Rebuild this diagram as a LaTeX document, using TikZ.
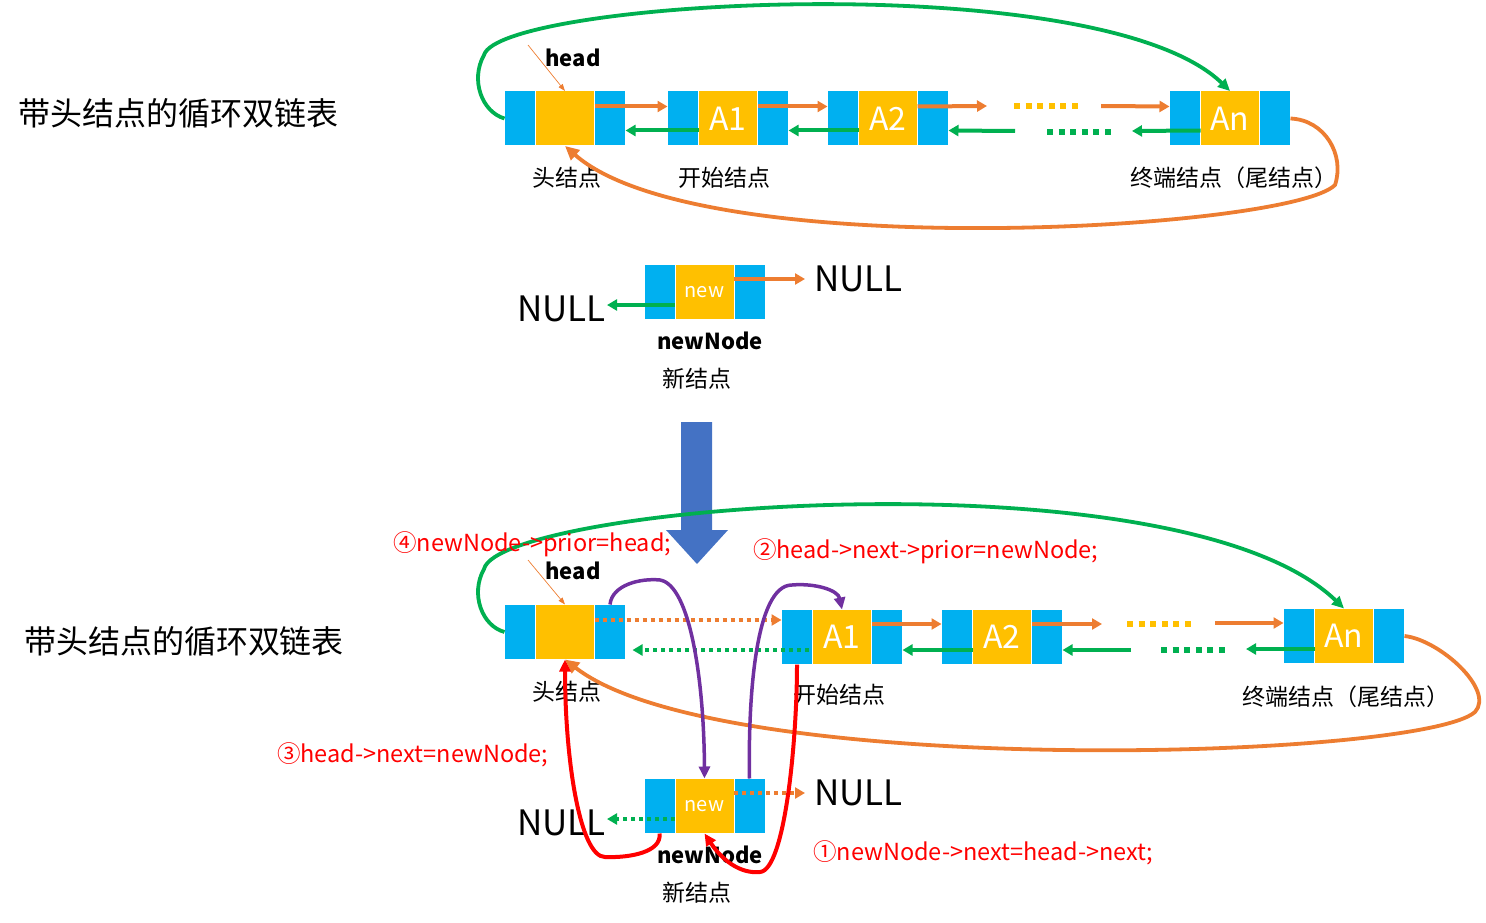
\documentclass[tikz,border=0pt]{standalone}
\usepackage{fontspec}
\setmainfont{Noto Sans CJK SC}
\usetikzlibrary{arrows.meta, positioning}
\definecolor{cblue}{HTML}{00B0F0}
\definecolor{cyellow}{HTML}{FFC000}
\definecolor{corange}{HTML}{ED7D31}
\definecolor{cgreen}{HTML}{00B050}
\definecolor{cpurple}{HTML}{7030A0}
\definecolor{cred}{HTML}{FF0000}
\definecolor{cbig}{HTML}{4472C4}
\tikzset{
  cellb/.style={draw=white, line width=1pt, outer sep=0pt, inner sep=0pt, fill=cblue, minimum width=31pt, minimum height=55pt},
  celly/.style={cellb, fill=cyellow, minimum width=59pt, text=white, font=\fontsize{32}{32}\selectfont},
  newtxt/.style={font=\fontsize{20}{20}\selectfont},
  lbl/.style={font=\fontsize{23}{23}\selectfont, inner sep=0pt},
  title/.style={font=\fontsize{32}{32}\selectfont, inner sep=0pt},
  boldlbl/.style={font=\fontsize{22}{22}\selectfont\bfseries, inner sep=0pt},
  nulltxt/.style={font=\fontsize{35}{35}\selectfont, inner sep=1pt},
  redtxt/.style={text=cred, font=\fontsize{23.5}{23.5}\selectfont, inner sep=0pt, anchor=west},
  nxtarr/.style={corange, line width=4pt, -{Triangle[length=10pt,width=11pt]}},
  prvarr/.style={cgreen, line width=4pt, -{Triangle[length=10pt,width=11pt]}},
  nxtdot/.style={nxtarr, dash pattern=on 4pt off 4pt},
  prvdot/.style={prvarr, dash pattern=on 4pt off 4pt},
  ydots/.style={cyellow, line width=6pt, dash pattern=on 6pt off 5.6pt},
  gdots/.style={cgreen, line width=6pt, dash pattern=on 6pt off 5.6pt},
  ptr/.style={corange, line width=0.7pt, -{Triangle[length=7pt,width=5pt]}},
  loopg/.style={cgreen, line width=3.8pt, -{Triangle[length=12pt,width=11pt]}},
  loopo/.style={corange, line width=3.8pt, -{Triangle[length=14pt,width=13pt]}},
  purp/.style={cpurple, line width=3.5pt, -{Triangle[length=12pt,width=11pt]}},
  redarr/.style={cred, line width=4pt, -{Triangle[length=12pt,width=11pt]}},
}
% one list node: prior | data | next
\newcommand{\lnode}[4][]{%
  \node[celly, #1] (#2) at (#3) {#4};
  \node[cellb, left=0pt of #2] (#2p) {};
  \node[cellb, right=0pt of #2] (#2n) {};
}
\begin{document}
\begin{tikzpicture}[x=1pt, y=-1pt]
  \useasboundingbox (0,0) rectangle (1486,923);

  % titles
  \node[title] (t1) at (179,113) {带头结点的循环双链表};
  \node[title] (t2) at (184,641) {带头结点的循环双链表};

  % top list
  \lnode{head}{565,118.5}{}
  \lnode{a1}{728,118.5}{A1}
  \lnode{a2}{888,118.5}{A2}
  \lnode{an}{1230,118.5}{An}
  \node[boldlbl] (headlbl) at (573,58) {head};
  \coordinate (hp) at (528,45);
  \draw[ptr] (hp) -- (head.north);
  \node[lbl] (l1) at (567,178) {头结点};
  \node[lbl] (l2) at (724,178) {开始结点};
  \node[lbl] (l3) at (1234,178) {终端结点（尾结点）};

  \coordinate (d1) at (987,106);
  \coordinate (d2) at (1014,106);
  \coordinate (d3) at (1078,106);
  \coordinate (d4) at (1101,106);
  \coordinate (e1) at (1015,131);
  \coordinate (e2) at (1047,132);
  \coordinate (e3) at (1112,132);
  \coordinate (e4) at (1132,131);
  \draw[nxtarr] ([yshift=12pt]headn.west) -- ([yshift=12pt]a1p.west);
  \draw[prvarr] ([yshift=-12pt]a1p.east) -- ([yshift=-12pt]headn.east);
  \draw[nxtarr] ([yshift=12pt]a1n.west) -- ([yshift=12pt]a2p.west);
  \draw[prvarr] ([yshift=-12pt]a2p.east) -- ([yshift=-12pt]a1n.east);
  \draw[nxtarr] ([yshift=12pt]a2n.west) -- (d1);
  \draw[ydots] (d2) -- (d3);
  \draw[nxtarr] (d4) -- ([yshift=12pt]anp.west);
  \draw[prvarr] ([yshift=-12pt]anp.east) -- (e4);
  \draw[gdots] (e2) -- (e3);
  \draw[prvarr] (e1) -- ([yshift=-12pt]a2n.east);

  \draw[loopg] (headp.west) .. controls (482,112) and (470,80) .. (484,55)
    .. controls (500,0) and (1100,-35) .. (an.north);
  \draw[loopo] (ann.east) .. controls (1325,120) and (1345,155) .. (1335,185)
    .. controls (1290,230) and (700,265) .. (head.south);

  % new node
  \lnode[newtxt]{nw}{704.5,292}{new}
  \node[nulltxt, anchor=west] (nullr) at (813,279) {NULL};
  \node[nulltxt, anchor=east] (nulll) at (607,309) {NULL};
  \draw[nxtarr] ([yshift=13pt]nwn.west) -- ([xshift=-8pt]nullr.west);
  \draw[prvarr] ([yshift=-13pt]nwp.east) -- ([yshift=4pt]nulll.east);
  \node[boldlbl] (nwlbl) at (710,341) {newNode};
  \node[lbl] (nwcn) at (697,379) {新结点};

  % big arrow
  \fill[cbig] (681,422) -- (712,422) -- (712,530) -- (728,530) -- (697,564)
    -- (666,530) -- (681,530) -- cycle;

  % bottom list
  \lnode{bhead}{565,632}{}
  \lnode{ba1}{842,637}{A1}
  \lnode{ba2}{1002,637}{A2}
  \lnode{ban}{1344,636}{An}
  \node[boldlbl] (bheadlbl) at (573,571) {head};
  \coordinate (bhp) at (528,560);
  \draw[ptr] (bhp) -- (bhead.north);
  \node[lbl] (bl1) at (567,692) {头结点};
  \node[lbl] (bl2) at (839,695) {开始结点};
  \node[lbl] (bl3) at (1346,697) {终端结点（尾结点）};

  \coordinate (u1) at (1102,624);
  \coordinate (u2) at (1127,624);
  \coordinate (u3) at (1191,624);
  \coordinate (u4) at (1215,623);
  \coordinate (v1) at (1131,650);
  \coordinate (v2) at (1161,650);
  \coordinate (v3) at (1226,650);
  \coordinate (v4) at (1246,649);
  \draw[nxtdot] ([yshift=12pt]bheadn.west) -- ([yshift=17pt]ba1p.west);
  \draw[prvdot] ([yshift=-13pt,xshift=-4pt]ba1p.east) -- ([yshift=-18pt,xshift=7pt]bheadn.east);
  \draw[nxtarr] ([yshift=13pt]ba1n.west) -- ([yshift=13pt]ba2p.west);
  \draw[prvarr] ([yshift=-13pt]ba2p.east) -- ([yshift=-13pt]ba1n.east);
  \draw[nxtarr] ([yshift=13pt]ba2n.west) -- (u1);
  \draw[ydots] (u2) -- (u3);
  \draw[nxtarr] (u4) -- ([yshift=13pt]banp.west);
  \draw[prvarr] ([yshift=-13pt]banp.east) -- (v4);
  \draw[gdots] (v2) -- (v3);
  \draw[prvarr] (v1) -- ([yshift=-13pt]ba2n.east);

  % bottom new node
  \lnode[newtxt]{bnw}{704.5,806}{new}
  \node[nulltxt, anchor=west] (bnullr) at (813,793) {NULL};
  \node[nulltxt, anchor=east] (bnulll) at (607,823) {NULL};
  \draw[nxtdot] ([yshift=13pt]bnwn.west) -- ([xshift=-8pt]bnullr.west);
  \draw[prvdot] ([yshift=-13pt]bnwp.east) -- ([yshift=4pt]bnulll.east);
  \node[boldlbl] (bnwlbl) at (710,855) {newNode};
  \node[lbl] (bnwcn) at (697,893) {新结点};

  \draw[loopg] (bheadp.west) .. controls (482,626) and (470,594) .. (484,569)
    .. controls (500,505) and (1180,450) .. (ban.north);
  \draw[loopo] (bann.east) .. controls (1440,640) and (1495,690) .. (1475,712)
    .. controls (1420,760) and (720,780) .. (bhead.south);

  % insertion steps
  \draw[purp] (bheadn.north) .. controls (612,585) and (640,578) .. (660,580)
    .. controls (690,585) and (704,680) .. (bnw.north);
  \draw[purp] (bnwn.north) .. controls (748,700) and (755,585) .. (792,585)
    .. controls (815,583) and (838,590) .. (ba1.north);
  \draw[redarr] (bnwp.south) .. controls (662,852) and (630,858) .. (605,857)
    .. controls (580,857) and (565,760) .. (bhead.south);
  \draw[redarr] (ba1p.south) .. controls (797,740) and (785,870) .. (760,872)
    .. controls (740,874) and (722,860) .. (bnw.south);

  \node[redtxt] (s4) at (393,544) {④newNode->prior=head;};
  \node[redtxt] (s2) at (753,551) {②head->next->prior=newNode;};
  \node[redtxt] (s3) at (277,755) {③head->next=newNode;};
  \node[redtxt] (s1) at (813,853) {①newNode->next=head->next;};
\end{tikzpicture}
\end{document}
